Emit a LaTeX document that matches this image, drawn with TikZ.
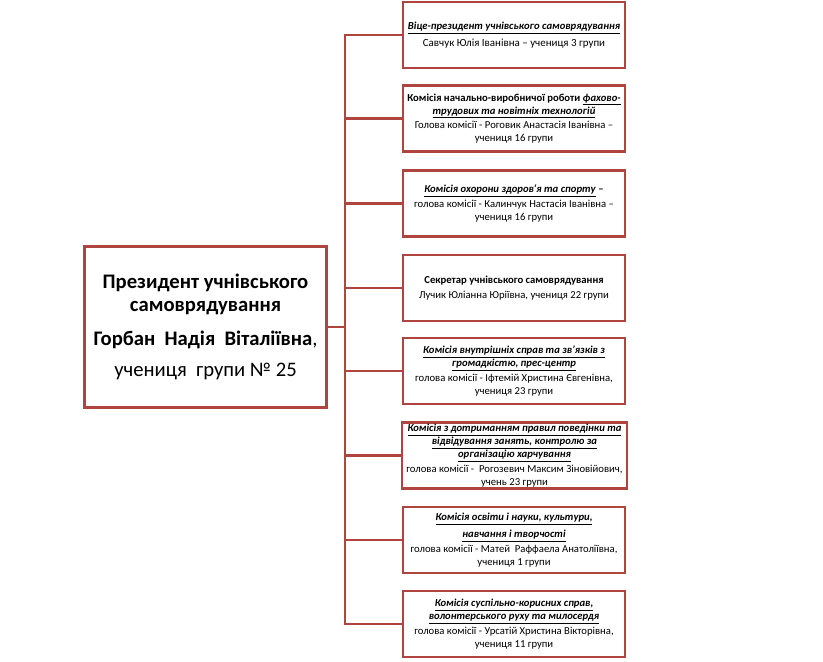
\documentclass[tikz,border=0pt]{standalone}
\usepackage{fontspec}
\setmainfont{Carlito}
\usetikzlibrary{positioning}
\definecolor{frm}{HTML}{B0443F}
\tikzset{
  presbox/.style={draw=frm, line width=2.2pt, fill=white, align=center,
    minimum width=182pt, minimum height=121pt, inner sep=2pt,
    font=\fontsize{15.5}{17.5}\selectfont},
  subbox/.style ={draw=frm, line width=2.2pt, fill=white, align=center,
    minimum width=166.5pt, minimum height=49.5pt, inner sep=1pt,
    font=\fontsize{8}{9.8}\selectfont},
  link/.style   ={draw=frm, line width=2.2pt},
}
\newcommand{\ttl}[1]{\underline{\textbf{\textit{#1}}}}
\begin{document}
\begin{tikzpicture}[x=0.75pt,y=-0.75pt]
\useasboundingbox (0,0) rectangle (823,661);
\node[presbox] (pres) at (205.5,327)
  {\textbf{Президент учнівського}\\\textbf{самоврядування}\\[8pt]
   \textbf{Горбан\ \ Надія\ \ Віталіївна},\\[5.5pt]учениця\ \ групи № 25};
\node[subbox] (vice) at (514,35)
  {\ttl{Віце-президент учнівського самоврядування}\\[3pt]
   {\fontsize{8.2}{10}\selectfont Савчук Юлія Іванівна – учениця 3 групи}};
\node[subbox] (prod) at (514,118.5)
  {\textbf{Комісія начально-виробничої роботи} \ttl{фахово-}\\
   \ttl{трудових та новітніх технологій}\\[1pt]
   Голова комісії - Роговик Анастасія Іванівна –\\учениця 16 групи};
\node[subbox] (health) at (514,203.5)
  {\ttl{Комісія охорони здоров`я та спорту} \textbf{–}\\[1pt]
   голова комісії - Калинчук Настасія Іванівна –\\учениця 16 групи};
\node[subbox] (secr) at (514,288)
  {\textbf{Секретар учнівського самоврядування}\\[1pt]
   Лучик Юліанна Юріївна, учениця 22 групи};
\node[subbox] (inner) at (514,371)
  {\ttl{Комісія внутрішніх справ та зв’язків з}\\
   \ttl{громадкістю, прес-центр}\\[1pt]
   голова комісії - Іфтемій Христина Євгенівна,\\учениця 23 групи};
\node[subbox, minimum width=168.75pt] (rules) at (514.5,455.5)
  {\ttl{Комісія з дотриманням правил поведінки та}\\
   \ttl{відвідування занять, контролю за}\\
   \ttl{організацію харчування}\\[1pt]
   голова комісії -\ \ Рогозевич Максим Зіновійович,\\учень 23 групи};
\node[subbox] (edu) at (514,540)
  {\ttl{Комісія освіти і науки, культури,}\\[3pt]
   \ttl{навчання і творчості}\\[1pt]
   голова комісії - Матей\ \ Раффаела Анатоліївна,\\учениця 1 групи};
\node[subbox] (volun) at (514,624)
  {\ttl{Комісія суспільно-корисних справ,}\\
   \ttl{волонтерського руху та милосердя}\\[1pt]
   голова комісії - Урсатій Христина Вікторівна,\\учениця 11 групи};
\coordinate (trunk) at (345,327);
% trunk and branches
\draw[link] (pres.east) -- (trunk);
\draw[link] (vice.west) -| (trunk |- volun.west) -- (volun.west);
\foreach \n in {prod,health,secr,inner,rules,edu}
  \draw[link] (trunk |- \n.west) -- (\n.west);
\end{tikzpicture}
\end{document}
